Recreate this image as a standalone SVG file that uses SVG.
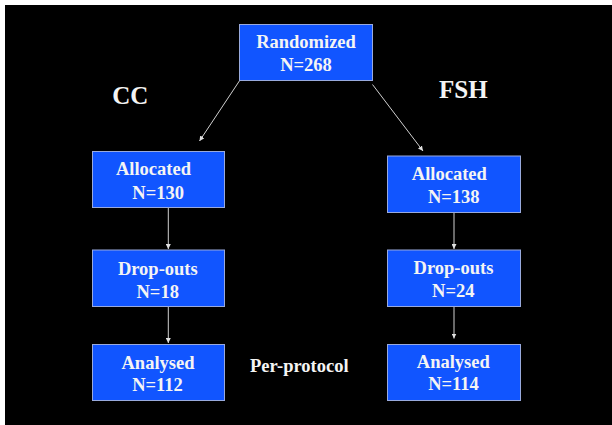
<svg xmlns="http://www.w3.org/2000/svg" width="612" height="425" viewBox="0 0 612 425">
<defs>
<style>
.box{fill:#1155ff;stroke:#99aadd;stroke-width:1}
.t{font-family:"Liberation Serif","Times New Roman",serif;font-weight:bold;fill:#f4f4f4;font-size:18.5px;text-anchor:middle}
.h{font-size:25px}
.c{stroke:#d0d0d0;stroke-width:1;fill:none;marker-end:url(#ah)}
</style>
<marker id="ah" viewBox="0 0 10 10" refX="10" refY="5" markerWidth="5" markerHeight="5" markerUnits="userSpaceOnUse" orient="auto">
<path d="M0,0 L10,5 L0,10 z" fill="#e0e0e0"/>
</marker>
</defs>
<rect x="0" y="0" width="612" height="425" fill="#ffffff"/>
<rect x="5" y="5" width="607" height="420" fill="#000000"/>
<g id="connectors">
<line class="c" x1="240" y1="80" x2="199.5" y2="141"/>
<line class="c" x1="372.5" y1="84.5" x2="423" y2="151"/>
<line class="c" x1="168.3" y1="207.5" x2="168.3" y2="249"/>
<line class="c" x1="168.3" y1="306.5" x2="168.3" y2="343"/>
<line class="c" x1="454" y1="212.5" x2="454" y2="249"/>
<line class="c" x1="454" y1="301.5" x2="454" y2="338.5"/>
</g>
<g id="randomized">
<rect class="box" x="239.5" y="24.5" width="133" height="56"/>
<text class="t" x="306" y="48">Randomized</text>
<text class="t" x="306" y="70.5">N=268</text>
</g>
<g id="cc-label"><text class="t h" x="130.2" y="104">CC</text></g>
<g id="fsh-label"><text class="t h" x="463.3" y="97.5">FSH</text></g>
<g id="allocated-cc">
<rect class="box" x="92.5" y="151.5" width="132" height="56"/>
<text class="t" x="153.5" y="175">Allocated</text>
<text class="t" x="158.2" y="198.5">N=130</text>
</g>
<g id="allocated-fsh">
<rect class="box" x="387.5" y="156" width="133" height="56.5"/>
<text class="t" x="449.3" y="180">Allocated</text>
<text class="t" x="453.8" y="202.5">N=138</text>
</g>
<g id="dropouts-cc">
<rect class="box" x="92.5" y="250" width="132" height="56.5"/>
<text class="t" x="157.8" y="274.5">Drop-outs</text>
<text class="t" x="157.7" y="297.5">N=18</text>
</g>
<g id="dropouts-fsh">
<rect class="box" x="387.5" y="250" width="133" height="56.5"/>
<text class="t" x="453.5" y="274">Drop-outs</text>
<text class="t" x="453.3" y="297">N=24</text>
</g>
<g id="analysed-cc">
<rect class="box" x="92.5" y="344.5" width="132" height="56"/>
<text class="t" x="158" y="368.5">Analysed</text>
<text class="t" x="157.5" y="391">N=112</text>
</g>
<g id="analysed-fsh">
<rect class="box" x="387.5" y="344.5" width="133" height="56"/>
<text class="t" x="453.3" y="368">Analysed</text>
<text class="t" x="453.5" y="390">N=114</text>
</g>
<g id="per-protocol"><text class="t" x="299.3" y="372">Per-protocol</text></g>
</svg>
